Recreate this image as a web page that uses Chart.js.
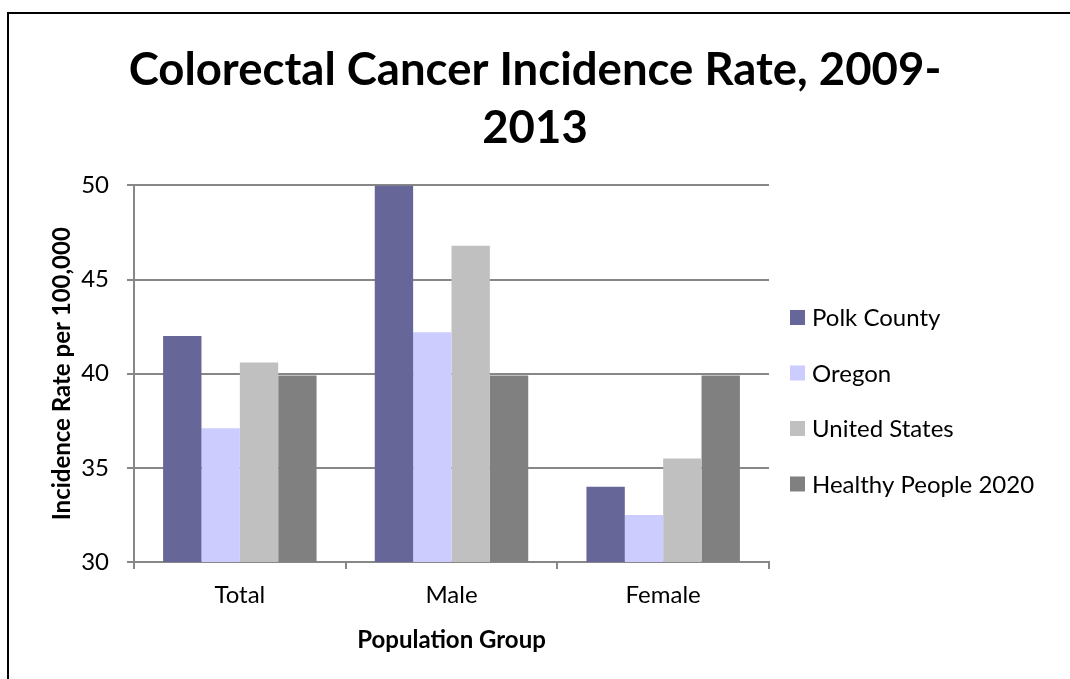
<!DOCTYPE html>
<html>
<head>
<meta charset="utf-8">
<title>Colorectal Cancer Incidence Rate, 2009-2013</title>
<script src="https://cdn.jsdelivr.net/npm/chart.js@4"></script>
<style>
    html, body { margin: 0; padding: 0; background: #fff; overflow: hidden; }
    #frame {
        position: absolute; left: 7px; top: 12px;
        width: 1100px; height: 700px;
        border: 2px solid #000;
    }
    #incidenceChart { position: absolute; left: 0; top: 0; }
</style>
</head>
<body>
<div id="frame"></div>
<canvas id="incidenceChart" width="1070" height="679"></canvas>
<script>
// Data
const groups = ['Total', 'Male', 'Female'];
const seriesNames = ['Polk County', 'Oregon', 'United States', 'Healthy People 2020'];
const polkCounty = [42.0, 50.0, 34.0];
const oregon = [37.1, 42.2, 32.5];
const unitedStates = [40.6, 46.8, 35.5];
const healthyPeople2020 = [39.9, 39.9, 39.9];
const yTicks = [30, 35, 40, 45, 50];

const seriesColors = ['#666699', '#ccccff', '#c0c0c0', '#808080'];
const gridColor = '#878787';
const fontFamily = 'Lato, "Open Sans", sans-serif';

// legend on the right, drawn by hand so spacing matches the original
const sideLegend = {
    id: 'sideLegend',
    afterDraw(chart) {
        const c = chart.ctx;
        const area = chart.chartArea;
        c.save();
        c.font = '24px ' + fontFamily;
        c.textBaseline = 'middle';
        c.textAlign = 'left';
        chart.data.datasets.forEach((ds, i) => {
            const cy = area.top + 132 + i * 55.5;
            const x = area.right + 21;
            c.fillStyle = ds.backgroundColor;
            c.fillRect(x, cy - 7.5, 15, 15);
            c.fillStyle = '#000';
            c.fillText(ds.label, x + 22, cy + 1);
        });
        c.restore();
    }
};

const ctx = document.getElementById('incidenceChart').getContext('2d');
const incidenceChart = new Chart(ctx, {
    type: 'bar',
    data: {
        labels: groups,
        datasets: [polkCounty, oregon, unitedStates, healthyPeople2020].map((values, i) => ({
            label: seriesNames[i],
            data: values,
            backgroundColor: seriesColors[i],
            borderWidth: 0,
            barPercentage: 1,
            categoryPercentage: 0.725
        }))
    },
    options: {
        responsive: false,
        animation: false,
        layout: {
            padding: 0
        },
        plugins: {
            legend: { display: false },
            tooltip: { enabled: false },
            title: {
                display: true,
                text: ['Colorectal Cancer Incidence Rate, 2009-', '2013'],
                color: '#000',
                font: { family: fontFamily, size: 45.5, weight: 'bold', lineHeight: 1.28 },
                padding: { top: 41, bottom: 28 }
            }
        },
        scales: {
            x: {
                grid: {
                    display: true,
                    drawOnChartArea: false,
                    drawTicks: true,
                    tickLength: 7,
                    color: gridColor,
                    lineWidth: 2
                },
                border: { color: gridColor, width: 2 },
                ticks: {
                    color: '#000',
                    padding: 12,
                    font: { family: fontFamily, size: 24 }
                },
                title: {
                    display: true,
                    text: 'Population Group',
                    color: '#000',
                    font: { family: fontFamily, size: 24, weight: 'bold' },
                    padding: { top: 4, bottom: 24 }
                },
                afterFit(scale) { scale.height = 117; }
            },
            y: {
                min: yTicks[0],
                max: yTicks[yTicks.length - 1],
                afterBuildTicks(scale) { scale.ticks = yTicks.map(v => ({ value: v })); },
                grid: {
                    color: gridColor,
                    lineWidth: 2,
                    tickLength: 7
                },
                border: { color: gridColor, width: 2 },
                ticks: {
                    color: '#000',
                    padding: 18,
                    font: { family: fontFamily, size: 24 }
                },
                title: {
                    display: true,
                    text: 'Incidence Rate per 100,000',
                    color: '#000',
                    font: { family: fontFamily, size: 24, weight: 'bold' },
                    padding: { top: 48, bottom: 0 }
                },
                afterFit(scale) { scale.width = 134; }
            },
            // empty scale on the right, only keeps room for the legend
            legendRoom: {
                type: 'linear',
                position: 'right',
                grid: { display: false },
                border: { display: false },
                ticks: { display: false },
                afterFit(scale) { scale.width = 301; }
            }
        }
    },
    plugins: [sideLegend]
});
</script>
</body>
</html>
